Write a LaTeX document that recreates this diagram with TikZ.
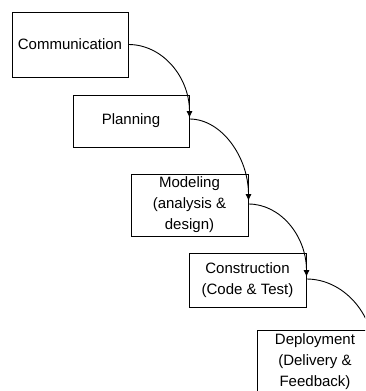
\documentclass[tikz,border=0pt]{standalone}
\usepackage{fontspec}
\setmainfont{Liberation Sans}
\usetikzlibrary{arrows.meta}
\begin{document}
\begin{tikzpicture}[x=1pt,y=-1pt,
  phase/.style={draw=black, line width=1pt, rectangle, inner sep=0pt, align=center,
    font=\fontsize{15pt}{21pt}\selectfont},
  flow/.style={line width=0.9pt, -{Latex[length=7pt,width=6pt]}}]
\useasboundingbox (0,0) rectangle (365,391);
\clip (0,0) rectangle (365,391);
\node[phase, minimum width=116pt, minimum height=65pt] (comm) at (70,44.5) {Communication};
\node[phase, minimum width=116pt, minimum height=52pt] (plan) at (131,121) {Planning};
\node[phase, minimum width=117pt, minimum height=62pt] (model) at (189.5,205) {Modeling\\(analysis \&\\design)};
\node[phase, minimum width=117pt, minimum height=54pt] (cons) at (247.5,280) {Construction\\(Code \& Test)};
\node[phase, minimum width=116pt, minimum height=64pt] (depl) at (315,362) {Deployment\\(Delivery \&\\Feedback)};
\draw[flow] (comm.east) .. controls +(34,0) and +(0,-41) .. ([yshift=3pt]plan.east);
\draw[flow] ([yshift=2pt]plan.east) .. controls +(32,0) and +(0,-44) .. ([yshift=4pt]model.east);
\draw[flow] ([yshift=1pt]model.east) .. controls +(32,0) and +(0,-41) .. ([yshift=3pt]cons.east);
\draw[flow] ([yshift=1pt]cons.east) .. controls +(37,0) and +(0,-44) .. ([yshift=4pt]depl.east);
\end{tikzpicture}
\end{document}
